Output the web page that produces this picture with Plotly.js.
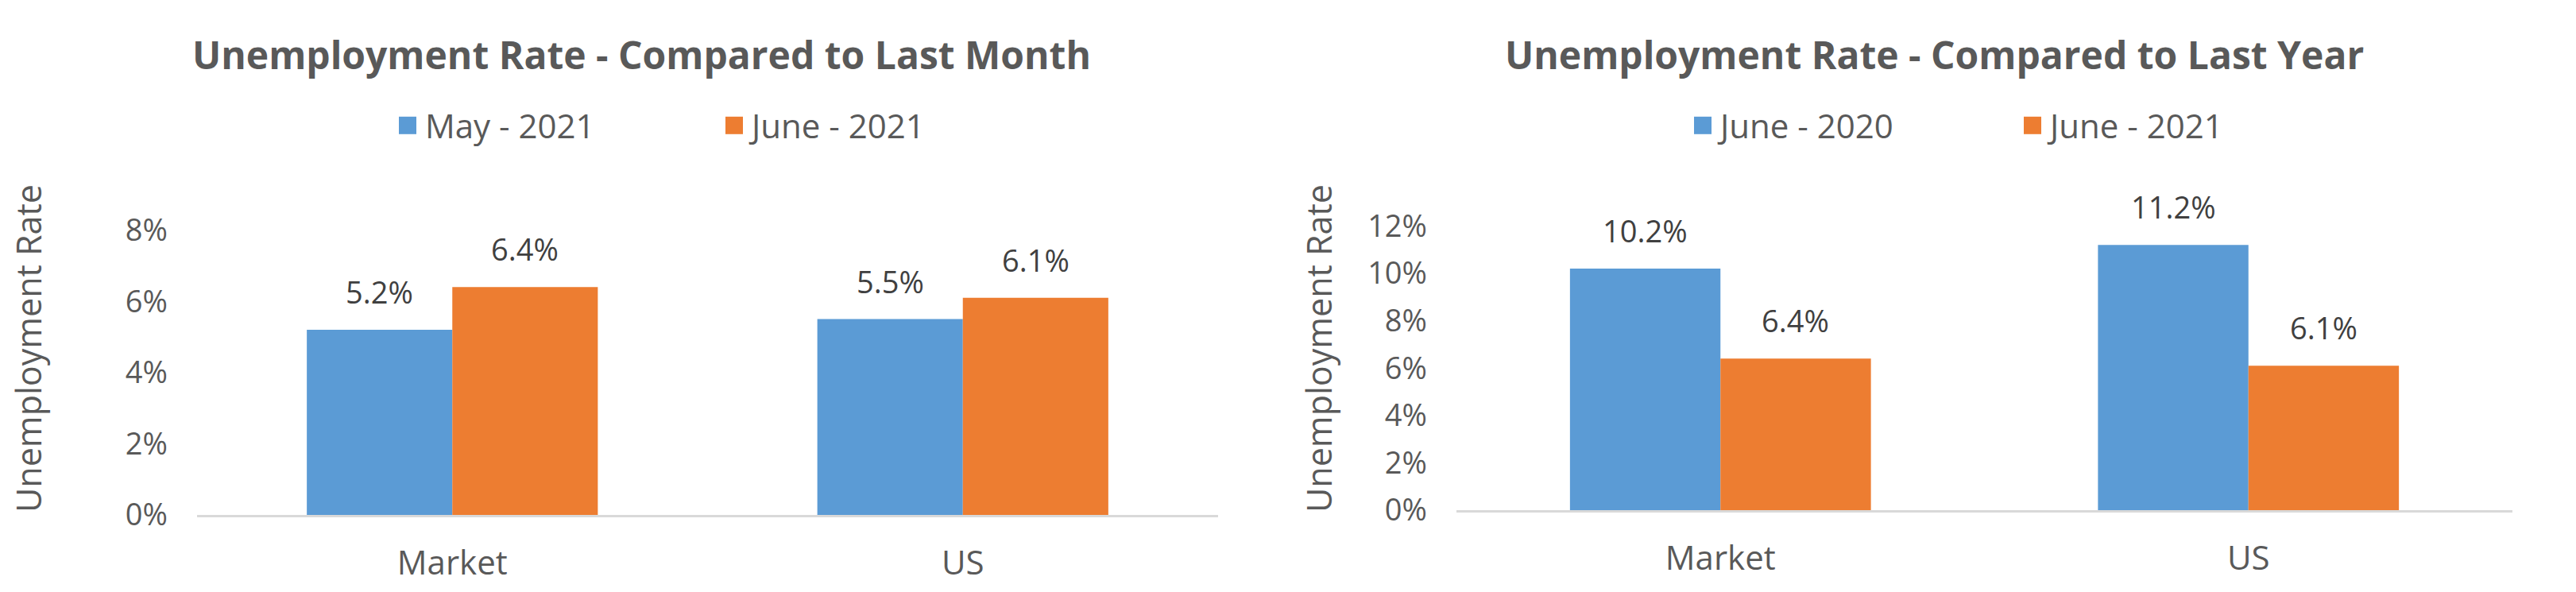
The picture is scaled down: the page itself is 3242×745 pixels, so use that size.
<!DOCTYPE html>
<html>
<head>
<meta charset="utf-8">
<script src="https://cdn.plot.ly/plotly-3.0.1.min.js"></script>
<style>
  html, body { margin: 0; padding: 0; background: #ffffff; }
  #chart { width: 3242px; height: 745px; }
</style>
</head>
<body>
<div id="chart"></div>
<script>
// ---------- data ----------
const categories = ['Market', 'US'];

const monthTitle = 'Unemployment Rate - Compared to Last Month';
const monthSeriesNames = ['May - 2021', 'June - 2021'];
const may2021 = [5.2, 5.5];
const june2021Month = [6.4, 6.1];
const monthTicks = [0, 2, 4, 6, 8];

const yearTitle = 'Unemployment Rate - Compared to Last Year';
const yearSeriesNames = ['June - 2020', 'June - 2021'];
const june2020 = [10.2, 11.2];
const june2021Year = [6.4, 6.1];
const yearTicks = [0, 2, 4, 6, 8, 10, 12];

const yAxisTitle = 'Unemployment Rate';

// ---------- style ----------
const FONT = 'Open Sans, Roboto, sans-serif';
const BLUE = '#5B9BD5';
const ORANGE = '#ED7D31';
const GREY = '#595959';
const LABEL = '#404040';
const BARGAP = 0.43;
const half = (1 - BARGAP) / 4; // offset of each bar centre from category centre

function barTrace(name, y, color, xa, ya, legend) {
  return {
    type: 'bar', name: name, x: categories, y: y,
    marker: { color: color }, xaxis: xa, yaxis: ya, legend: legend,
    hoverinfo: 'skip'
  };
}

const traces = [
  barTrace(monthSeriesNames[0], may2021, BLUE, 'x', 'y', 'legend'),
  barTrace(monthSeriesNames[1], june2021Month, ORANGE, 'x', 'y', 'legend'),
  barTrace(yearSeriesNames[0], june2020, BLUE, 'x2', 'y2', 'legend2'),
  barTrace(yearSeriesNames[1], june2021Year, ORANGE, 'x2', 'y2', 'legend2')
];

// value labels built from the data arrays
const annotations = [];
function addLabels(series, sign, xref, yref) {
  series.forEach((v, i) => {
    annotations.push({
      xref: xref, yref: yref, x: i + sign * half, y: v,
      text: v.toFixed(1) + '%', showarrow: false,
      xanchor: 'center', yanchor: 'bottom', yshift: 20,
      font: { family: FONT, size: 38, color: LABEL }
    });
  });
}
addLabels(may2021, -1, 'x', 'y');
addLabels(june2021Month, 1, 'x', 'y');
addLabels(june2020, -1, 'x2', 'y2');
addLabels(june2021Year, 1, 'x2', 'y2');

// chart titles
annotations.push({
  xref: 'paper', yref: 'paper', x: 0.2492, y: 1 - 34 / 745, xanchor: 'center', yanchor: 'top',
  text: '<b>' + monthTitle + '</b>', showarrow: false,
  font: { family: FONT, size: 48, color: GREY }
});
annotations.push({
  xref: 'paper', yref: 'paper', x: 0.7508, y: 1 - 34 / 745, xanchor: 'center', yanchor: 'top',
  text: '<b>' + yearTitle + '</b>', showarrow: false,
  font: { family: FONT, size: 48, color: GREY }
});
// y axis titles
[36 / 3242, 1660 / 3242].forEach(xp => {
  annotations.push({
    xref: 'paper', yref: 'paper', x: xp, y: 1 - 439 / 745, xanchor: 'center', yanchor: 'middle',
    text: yAxisTitle, textangle: -90, showarrow: false,
    font: { family: FONT, size: 43, color: GREY }
  });
});

function xAxis(domain, anchor) {
  return {
    domain: domain, anchor: anchor, type: 'category',
    showline: true, linecolor: '#D9D9D9', linewidth: 3,
    showgrid: false, zeroline: false, ticks: '',
    ticklabelstandoff: 22,
    tickfont: { family: FONT, size: 42, color: GREY }, fixedrange: true
  };
}
function yAxis(domain, anchor, range, ticks) {
  return {
    domain: domain, anchor: anchor, range: range,
    tickmode: 'array', tickvals: ticks, ticktext: ticks.map(t => t + '%'),
    showline: false, showgrid: false, zeroline: false, ticks: '',
    ticklabelstandoff: 36,
    tickfont: { family: FONT, size: 38, color: GREY }, fixedrange: true
  };
}

const layout = {
  width: 3242, height: 745,
  margin: { l: 0, r: 0, t: 0, b: 0 },
  paper_bgcolor: '#ffffff', plot_bgcolor: '#ffffff',
  barmode: 'group', bargap: BARGAP, bargroupgap: 0,
  showlegend: true,
  xaxis: xAxis([248 / 3242, 1533 / 3242], 'y'),
  yaxis: yAxis([97 / 745, 510 / 745], 'x', [0, 413 / 44.8], monthTicks),
  xaxis2: xAxis([1833 / 3242, 3162 / 3242], 'y2'),
  yaxis2: yAxis([103 / 745, 510 / 745], 'x2', [0, 407 / 29.8], yearTicks),
  legend: {
    orientation: 'h', x: 495 / 3242, y: 1 - 158 / 745, xanchor: 'left', yanchor: 'middle',
    font: { family: FONT, size: 42, color: GREY }, entrywidth: 366, bgcolor: 'rgba(0,0,0,0)'
  },
  legend2: {
    orientation: 'h', x: 2125 / 3242, y: 1 - 158 / 745, xanchor: 'left', yanchor: 'middle',
    font: { family: FONT, size: 42, color: GREY }, entrywidth: 370, bgcolor: 'rgba(0,0,0,0)'
  },
  annotations: annotations
};

// Larger legend swatches, as in the reference (Plotly draws 12px squares by default)
function bigLegendSquares() {
  document.querySelectorAll('.legendpoints path').forEach(p => {
    p.setAttribute('d', 'M11,11H-11V-11H11Z');
    p.setAttribute('transform', 'translate(18,0)');
  });
}

const gd = document.getElementById('chart');
Plotly.newPlot(gd, traces, layout, { staticPlot: true, displayModeBar: false }).then(() => {
  bigLegendSquares();
  gd.on('plotly_afterplot', bigLegendSquares);
});
</script>
</body>
</html>
